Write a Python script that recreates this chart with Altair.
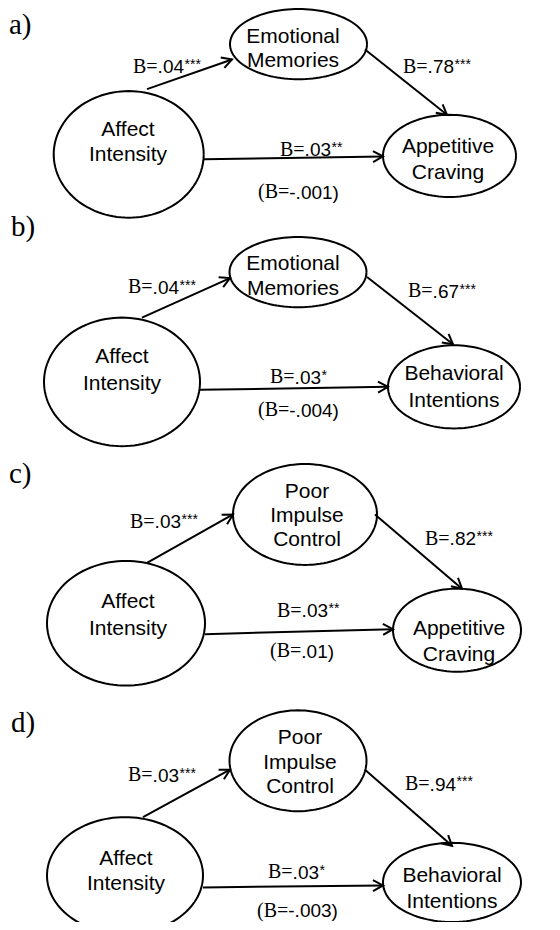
import math
import altair as alt
import pandas as pd
import numpy as np

# ---------------- data ----------------
panel_labels = ["a)", "b)", "c)", "d)"]
panel_label_x = [9, 11, 9, 11]
panel_label_y = [31, 235, 485, 737]          # baselines

node_text = ["Affect|Intensity", "Emotional|Memories", "Appetitive|Craving",
             "Affect|Intensity", "Emotional|Memories", "Behavioral|Intentions",
             "Affect|Intensity", "Poor|Impulse|Control", "Appetitive|Craving",
             "Affect|Intensity", "Poor|Impulse|Control", "Behavioral|Intentions"]
node_cx = [128.7, 298.5, 449.5, 122, 298, 454, 126, 305, 457, 125, 298, 452]
node_cy = [153, 41.5, 154.5, 383, 272, 388, 627, 517, 634, 882, 766, 889]
node_rx = [75, 68.5, 66.5, 78, 68.5, 66, 79, 72, 64, 78, 68.5, 69]
node_ry = [64, 35.5, 41.5, 65, 35.5, 42, 63, 51, 42, 59, 51, 40]
node_text_x = [128, 293, 448, 122, 293, 454, 128, 307, 459, 126, 300, 452]
node_text_y0 = [127, 33, 145, 357, 263, 374, 605, 493, 632, 864, 742, 881]
node_line_gap = [26, 25, 26, 27, 25, 27, 27, 24.5, 26, 26, 25, 27]

edge_x1 = [147, 365, 204, 142, 367, 200, 147, 375, 205, 143, 365, 203]
edge_y1 = [87, 47, 158, 318, 277, 391, 566, 517, 638, 823, 775, 894]
edge_x2 = [232, 447, 383, 230, 453, 388, 233, 462, 393, 230, 452, 383]
edge_y2 = [57, 113, 155, 278, 345, 388, 517, 592, 633, 775, 852, 892]

coef_serif = ["B=", "B=", "B=", "(B=", "B=", "B=", "B=", "(B=",
              "B=", "B=", "B=", "(B=", "B=", "B=", "B=", "(B="]
coef_sans = [".04", ".78", ".03", "-.001)", ".04", ".67", ".03", "-.004)",
             ".03", ".82", ".03", ".01)", ".03", ".94", ".03", "-.003)"]
coef_stars = ["***", "***", "**", "", "***", "***", "*", "",
              "***", "***", "**", "", "***", "***", "*", ""]
coef_x = [133, 403, 280, 258, 128, 408, 270, 258, 130, 425, 277, 270, 128, 405, 268, 257]
coef_y = [64, 64, 148, 191, 287, 291, 378, 411, 524, 541, 614, 655, 780, 789, 878, 917]

# ---------------- styling ----------------
SERIF = "Liberation Serif"
SANS = "Liberation Sans"
SERIF_SIZE, SANS_SIZE, STAR_SIZE, NODE_SIZE, PANEL_SIZE = 20, 19, 14, 21, 29
SERIF_W = {"B": 0.667, "=": 0.564, "(": 0.333}
SANS_W = {".": 0.278, "-": 0.333, ")": 0.333, "(": 0.333}


def width(s, table, size, default=0.556):
    return sum(table.get(c, default) for c in s) * size


# ---------------- derived tables ----------------
ell_rows = []
t = np.linspace(0, 2 * np.pi, 121)
for k in range(len(node_cx)):
    for i, tt in enumerate(t):
        ell_rows.append({"node": k, "i": i,
                         "x": node_cx[k] + node_rx[k] * math.cos(tt),
                         "y": node_cy[k] + node_ry[k] * math.sin(tt)})
ell_df = pd.DataFrame(ell_rows)

ntext_rows = []
for k, txt in enumerate(node_text):
    for j, line in enumerate(txt.split("|")):
        ntext_rows.append({"x": node_text_x[k],
                           "y": node_text_y0[k] + j * node_line_gap[k] + 1,
                           "t": line})
ntext_df = pd.DataFrame(ntext_rows)

edge_df = pd.DataFrame({"x": edge_x1, "y": edge_y1, "x2": edge_x2, "y2": edge_y2})
head_df = pd.DataFrame({
    "x": edge_x2, "y": edge_y2,
    "ang": [math.degrees(math.atan2(b2 - b1, a2 - a1)) % 360
            for a1, b1, a2, b2 in zip(edge_x1, edge_y1, edge_x2, edge_y2)]})

serif_rows, sans_rows, star_rows = [], [], []
for s, n, st, x, y in zip(coef_serif, coef_sans, coef_stars, coef_x, coef_y):
    ws = width(s, SERIF_W, SERIF_SIZE)
    wn = width(n, SANS_W, SANS_SIZE)
    serif_rows.append({"x": x, "y": y + 0.5, "t": s})
    sans_rows.append({"x": x + ws, "y": y + 1, "t": n})
    if st:
        star_rows.append({"x": x + ws + wn + 0.5, "y": y + 3, "t": st})
serif_df = pd.DataFrame(serif_rows)
sans_df = pd.DataFrame(sans_rows)
star_df = pd.DataFrame(star_rows)

panel_df = pd.DataFrame({"x": panel_label_x, "y": panel_label_y, "t": panel_labels})

# ---------------- chart ----------------
XS = alt.Scale(domain=[8, 552], nice=False, zero=False)
YS = alt.Scale(domain=[5, 929], nice=False, zero=False, reverse=True)


def X(f="x"):
    return alt.X(f"{f}:Q", scale=XS, axis=None)


def Y(f="y"):
    return alt.Y(f"{f}:Q", scale=YS, axis=None)


ellipses = alt.Chart(ell_df).mark_line(color="black", strokeWidth=2, clip=True).encode(
    x=X(), y=Y(), detail="node:N", order=alt.Order("i:Q"))

edges = alt.Chart(edge_df).mark_rule(color="black", strokeWidth=2).encode(
    x=X(), y=Y(), x2="x2:Q", y2="y2:Q")

heads = alt.Chart(head_df).mark_point(
    shape="M-1,-0.55L0,0L-1,0.55", filled=False, size=400, color="black",
    strokeWidth=2, opacity=1, strokeJoin="miter").encode(
    x=X(), y=Y(), angle=alt.Angle("ang:Q", scale=None))

node_labels = alt.Chart(ntext_df).mark_text(
    font=SANS, fontSize=NODE_SIZE, align="center", baseline="middle", color="black").encode(
    x=X(), y=Y(), text="t:N")

serif_txt = alt.Chart(serif_df).mark_text(
    font=SERIF, fontSize=SERIF_SIZE, align="left", baseline="middle", color="black").encode(
    x=X(), y=Y(), text="t:N")
sans_txt = alt.Chart(sans_df).mark_text(
    font=SANS, fontSize=SANS_SIZE, align="left", baseline="middle", color="black").encode(
    x=X(), y=Y(), text="t:N")
star_txt = alt.Chart(star_df).mark_text(
    font=SANS, fontSize=STAR_SIZE, align="left", baseline="alphabetic", color="black").encode(
    x=X(), y=Y(), text="t:N")

panel_txt = alt.Chart(panel_df).mark_text(
    font=SERIF, fontSize=PANEL_SIZE, align="left", baseline="alphabetic", color="black").encode(
    x=X(), y=Y(), text="t:N")

chart = alt.layer(ellipses, edges, heads, node_labels, serif_txt, sans_txt, star_txt,
                  panel_txt).properties(
    width=544, height=914, padding=0,
    autosize=alt.AutoSizeParams(type="none"),
    background="white",
).configure_view(stroke=None)

chart.save("out.html", embed_options={"renderer": "svg", "actions": False})
